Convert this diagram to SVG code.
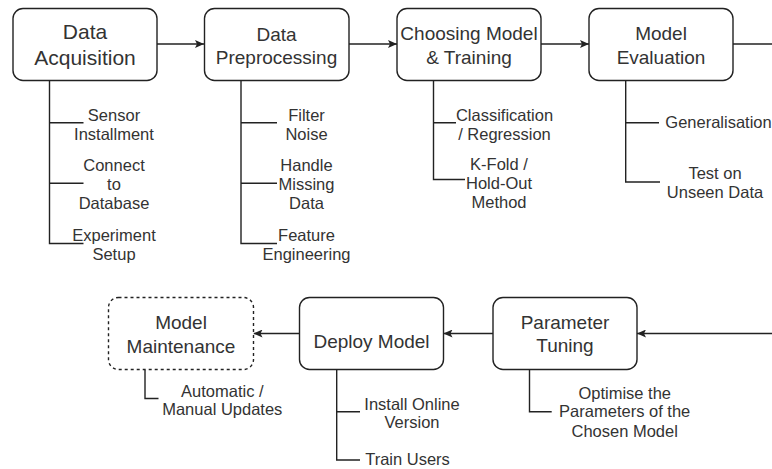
<svg xmlns="http://www.w3.org/2000/svg" width="772" height="469" viewBox="0 0 772 469">
  <defs>
    <marker id="arrow" viewBox="0 0 9 8" refX="9" refY="4" markerWidth="9" markerHeight="8" markerUnits="userSpaceOnUse" orient="auto">
      <path d="M0,0 L9,4 L0,8 L2,4 Z" fill="#222"/>
    </marker>
    <style>
      .box { fill: #fff; stroke: #222; stroke-width: 1.4; }
      .dashed { stroke-dasharray: 3 3; }
      .line { fill: none; stroke: #222; stroke-width: 1.4; }
      .arrow { marker-end: url(#arrow); }
      text { font-family: "Liberation Sans", Arial, sans-serif; fill: #333; text-anchor: middle; }
      .title { font-size: 19px; }
      .big { font-size: 21px; }
      .label { font-size: 16.5px; }
    </style>
  </defs>
  <rect width="772" height="469" fill="#fff"/>

  <!-- connectors: flow arrows and branch lines -->
  <g id="connectors">
    <path class="line arrow" d="M157,44 H204"/>
    <path class="line arrow" d="M349,44 H397"/>
    <path class="line arrow" d="M541,44 H589"/>
    <path class="line" d="M733,44 H772"/>
    <path class="line arrow" d="M772,333.5 H637"/>
    <path class="line arrow" d="M493,333.5 H443.5"/>
    <path class="line arrow" d="M299.5,333.5 H253.5"/>

    <path class="line" d="M49.5,80.5 V243.5 H83.5 M49.5,122.7 H83.5 M49.5,183.3 H83.5"/>
    <path class="line" d="M241,80.5 V243.5 H277 M241,122.7 H277 M241,183.3 H277"/>
    <path class="line" d="M433.5,80.5 V179.5 H465 M433.5,122.7 H456"/>
    <path class="line" d="M625.7,80.5 V182 H660 M625.7,122.7 H659"/>
    <path class="line" d="M145,370 V398.5 H158.5"/>
    <path class="line" d="M336.7,369.5 V460 H360 M336.7,411.7 H360"/>
    <path class="line" d="M529.5,369.5 V411.7 H551.7"/>
  </g>

  <g id="data-acquisition">
    <rect class="box" x="13" y="8.5" width="144" height="72" rx="10"/>
    <text class="big" x="85" y="39.3">Data</text>
    <text class="big" x="85" y="65">Acquisition</text>
  </g>
  <g id="data-preprocessing">
    <rect class="box" x="204.5" y="8.5" width="144.5" height="72" rx="10"/>
    <text class="title" x="276.5" y="40.5">Data</text>
    <text class="title" x="276.5" y="63.5">Preprocessing</text>
  </g>
  <g id="model-training">
    <rect class="box" x="397" y="8.5" width="144" height="72" rx="10"/>
    <text class="title" x="469" y="39.5">Choosing Model</text>
    <text class="title" x="469" y="63.5">&amp; Training</text>
  </g>
  <g id="model-evaluation">
    <rect class="box" x="589" y="8.5" width="144" height="72" rx="10"/>
    <text class="title" x="661" y="40">Model</text>
    <text class="title" x="661" y="63.5">Evaluation</text>
  </g>
  <g id="model-maintenance">
    <rect class="box dashed" x="108.5" y="297.5" width="145" height="72" rx="10"/>
    <text class="title" x="181" y="329.3">Model</text>
    <text class="title" x="181" y="353">Maintenance</text>
  </g>
  <g id="deploy-model">
    <rect class="box" x="299.5" y="297.5" width="144" height="72" rx="10"/>
    <text class="title" x="371.5" y="347.5">Deploy Model</text>
  </g>
  <g id="parameter-tuning">
    <rect class="box" x="493" y="297.5" width="144" height="72" rx="10"/>
    <text class="title" x="565" y="329.3">Parameter</text>
    <text class="title" x="565" y="352">Tuning</text>
  </g>

  <!-- branch labels -->
  <g id="labels" class="label">
    <text class="label" x="114" y="120.7">Sensor</text>
    <text class="label" x="114" y="140">Installment</text>
    <text class="label" x="114" y="171">Connect</text>
    <text class="label" x="114" y="190">to</text>
    <text class="label" x="114" y="209.3">Database</text>
    <text class="label" x="114" y="241">Experiment</text>
    <text class="label" x="114" y="260">Setup</text>

    <text class="label" x="306.5" y="120.7">Filter</text>
    <text class="label" x="306.5" y="140">Noise</text>
    <text class="label" x="306.5" y="171">Handle</text>
    <text class="label" x="306.5" y="190">Missing</text>
    <text class="label" x="306.5" y="209.3">Data</text>
    <text class="label" x="306.5" y="241">Feature</text>
    <text class="label" x="306.5" y="260">Engineering</text>

    <text class="label" x="504.5" y="120.7">Classification</text>
    <text class="label" x="504.5" y="140">/ Regression</text>
    <text class="label" x="499" y="170">K-Fold /</text>
    <text class="label" x="499" y="189.3">Hold-Out</text>
    <text class="label" x="499" y="208.3">Method</text>

    <text class="label" x="718.5" y="128.3">Generalisation</text>
    <text class="label" x="715" y="179.3">Test on</text>
    <text class="label" x="715" y="198.3">Unseen Data</text>

    <text class="label" x="222.3" y="396.7">Automatic /</text>
    <text class="label" x="222.3" y="415">Manual Updates</text>

    <text class="label" x="412" y="410">Install Online</text>
    <text class="label" x="412" y="428.3">Version</text>
    <text class="label" x="407.5" y="465">Train Users</text>

    <text class="label" x="624.7" y="399">Optimise the</text>
    <text class="label" x="624.7" y="417.3">Parameters of the</text>
    <text class="label" x="624.7" y="436.7">Chosen Model</text>
  </g>
</svg>
